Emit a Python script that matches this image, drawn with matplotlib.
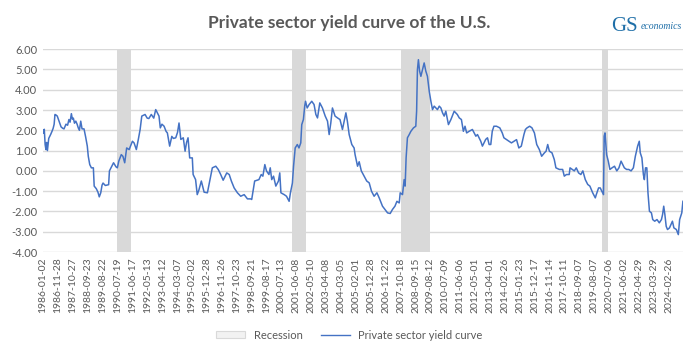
import pandas as pd
import matplotlib
matplotlib.use("Agg")
import matplotlib.pyplot as plt
from matplotlib.patches import Patch
from matplotlib.lines import Line2D

# time in decimal years, value of the private sector yield curve
t = [1986.00, 1986.04, 1986.08, 1986.13, 1986.18, 1986.22, 1986.27, 1986.35, 1986.47, 1986.55,
     1986.62, 1986.68, 1986.73, 1986.80, 1986.87, 1986.98, 1987.10, 1987.20, 1987.28, 1987.40,
     1987.50, 1987.58, 1987.65, 1987.73, 1987.79, 1987.85, 1987.92, 1988.00, 1988.08, 1988.15,
     1988.22, 1988.30, 1988.38, 1988.50, 1988.60, 1988.70, 1988.76, 1988.85, 1988.95, 1989.07,
     1989.12, 1989.25, 1989.35, 1989.43, 1989.52, 1989.60, 1989.66, 1989.80, 1990.00, 1990.05,
     1990.19, 1990.30, 1990.45, 1990.53, 1990.62, 1990.77, 1990.87, 1990.98, 1991.10, 1991.25,
     1991.45, 1991.55, 1991.69, 1991.81, 1991.92, 1992.02, 1992.22, 1992.35, 1992.45, 1992.60,
     1992.75, 1992.87, 1993.07, 1993.15, 1993.25, 1993.38, 1993.50, 1993.58, 1993.72, 1993.85,
     1993.95, 1994.09, 1994.20, 1994.29, 1994.40, 1994.55, 1994.66, 1994.75, 1994.84, 1994.94,
     1995.10, 1995.15, 1995.30, 1995.40, 1995.50, 1995.65, 1995.82, 1996.02, 1996.16, 1996.32,
     1996.53, 1996.68, 1996.83, 1996.98, 1997.20, 1997.35, 1997.48, 1997.65, 1997.85, 1998.05,
     1998.26, 1998.46, 1998.66, 1998.72, 1998.80, 1998.90, 1999.16, 1999.30, 1999.40, 1999.52,
     1999.62, 1999.77, 1999.85, 1999.94, 2000.05, 2000.19, 2000.35, 2000.43, 2000.50, 2000.70,
     2000.84, 2001.00, 2001.08, 2001.20, 2001.27, 2001.37, 2001.50, 2001.60, 2001.71, 2001.77,
     2001.87, 2001.95, 2002.00, 2002.10, 2002.22, 2002.38, 2002.52, 2002.63, 2002.73, 2002.87,
     2003.03, 2003.20, 2003.34, 2003.44, 2003.54, 2003.64, 2003.80, 2003.95, 2004.10, 2004.25,
     2004.46, 2004.55, 2004.66, 2004.82, 2004.96, 2005.02, 2005.10, 2005.17, 2005.27, 2005.40,
     2005.57, 2005.73, 2005.88, 2006.02, 2006.18, 2006.35, 2006.49, 2006.69, 2006.84, 2007.00,
     2007.16, 2007.30, 2007.45, 2007.57, 2007.71, 2007.77, 2007.91, 2008.01, 2008.07, 2008.13,
     2008.21, 2008.32, 2008.42, 2008.58, 2008.72, 2008.77, 2008.82, 2008.88, 2008.95, 2009.03,
     2009.13, 2009.23, 2009.33, 2009.43, 2009.54, 2009.64, 2009.74, 2009.84, 2010.04, 2010.15,
     2010.25, 2010.35, 2010.45, 2010.55, 2010.71, 2010.86, 2011.06, 2011.25, 2011.37, 2011.50,
     2011.62, 2011.72, 2011.82, 2011.97, 2012.17, 2012.38, 2012.48, 2012.58, 2012.68, 2012.78,
     2012.98, 2013.09, 2013.19, 2013.29, 2013.38, 2013.48, 2013.64, 2013.84, 2013.99, 2014.09,
     2014.25, 2014.40, 2014.55, 2014.70, 2014.86, 2015.00, 2015.15, 2015.31, 2015.40, 2015.50,
     2015.66, 2015.80, 2015.95, 2016.09, 2016.25, 2016.39, 2016.56, 2016.66, 2016.76, 2016.86,
     2017.02, 2017.16, 2017.26, 2017.47, 2017.67, 2017.77, 2017.90, 2018.07, 2018.12, 2018.38,
     2018.50, 2018.64, 2018.78, 2018.90, 2019.05, 2019.20, 2019.33, 2019.50, 2019.66, 2019.72,
     2019.86, 2019.96, 2020.06, 2020.16, 2020.20, 2020.25, 2020.35, 2020.45, 2020.55, 2020.68,
     2020.83, 2020.97, 2021.10, 2021.23, 2021.33, 2021.43, 2021.57, 2021.70, 2021.84, 2021.98,
     2022.10, 2022.24, 2022.34, 2022.40, 2022.50, 2022.59, 2022.65, 2022.72, 2022.80, 2022.87,
     2022.96, 2023.08, 2023.16, 2023.28, 2023.42, 2023.56, 2023.69, 2023.76, 2023.83, 2023.90,
     2023.98, 2024.06, 2024.18, 2024.36, 2024.45, 2024.60, 2024.72, 2024.80, 2024.93, 2025.00]

curve = [2.00, 1.85, 2.05, 1.30, 1.05, 1.40, 1.00, 1.60, 1.80, 1.95,
         2.10, 2.30, 2.78, 2.75, 2.70, 2.45, 2.17, 2.10, 2.07, 2.30,
         2.25, 2.53, 2.40, 2.82, 2.55, 2.60, 2.35, 2.45, 2.30, 2.12,
         2.00, 2.45, 2.07, 2.07, 1.67, 1.22, 0.72, 0.31, 0.15, 0.15,
         -0.75, -0.88, -1.05, -1.28, -1.08, -0.70, -0.60, -0.72, -0.68, 0.00,
         0.23, 0.40, 0.20, 0.15, 0.48, 0.80, 0.72, 0.40, 1.13, 1.05,
         1.46, 1.38, 1.05, 1.55, 2.04, 2.70, 2.78, 2.60, 2.58, 2.78,
         2.60, 3.02, 2.70, 2.12, 2.30, 2.20, 1.95, 1.87, 1.22, 1.70,
         1.60, 1.63, 1.90, 2.36, 1.55, 1.63, 0.97, 1.40, 1.63, 0.64,
         0.64, -0.18, -0.43, -1.17, -0.95, -0.50, -1.05, -1.08, -0.50, 0.15,
         0.23, 0.07, -0.18, -0.46, -0.10, -0.18, -0.50, -0.84, -1.08, -1.25,
         -1.17, -1.38, -1.38, -1.41, -1.00, -0.50, -0.43, -0.18, -0.26, 0.31,
         0.00, -0.18, 0.15, -0.43, -0.26, -0.75, -0.50, -0.10, -1.08, -1.17,
         -1.25, -1.50, -1.08, -0.60, 0.23, 1.13, 1.30, 1.13, 1.38, 2.28,
         2.53, 3.19, 3.43, 3.10, 3.27, 3.43, 3.27, 2.78, 2.61, 3.35,
         3.10, 2.70, 2.45, 1.79, 2.36, 3.10, 2.70, 2.61, 2.53, 2.04,
         2.86, 2.45, 1.79, 1.30, 1.13, 0.80, 0.50, 0.23, 0.45, 0.00,
         -0.26, -0.50, -0.59, -1.00, -1.25, -1.08, -1.33, -1.74, -1.90, -2.07,
         -2.10, -1.90, -1.74, -1.50, -1.58, -1.08, -1.17, -0.43, -0.75, 0.64,
         1.63, 1.79, 1.95, 2.12, 2.20, 2.94, 4.99, 5.48, 4.92, 4.66,
         4.99, 5.32, 4.92, 4.66, 3.92, 3.43, 3.02, 3.19, 3.02, 3.19,
         3.10, 2.86, 2.70, 2.94, 2.28, 2.53, 2.94, 2.78, 2.61, 2.53,
         1.95, 2.20, 1.87, 1.95, 2.04, 1.71, 1.79, 1.63, 1.46, 1.22,
         1.55, 1.63, 1.30, 1.30, 1.95, 2.20, 2.20, 2.12, 1.87, 1.63,
         1.54, 1.46, 1.38, 1.46, 1.54, 1.13, 1.22, 1.79, 2.04, 2.12,
         2.20, 2.12, 1.87, 1.30, 1.05, 0.72, 0.89, 0.97, 1.30, 0.97,
         0.89, 0.56, 0.15, 0.07, 0.07, -0.26, -0.18, -0.18, 0.15, 0.00,
         0.15, -0.10, -0.18, 0.00, -0.43, -0.67, -0.75, -1.08, -1.33, -1.17,
         -0.84, -0.84, -1.00, -1.17, 1.71, 1.87, 0.80, 0.48, 0.07, 0.15,
         0.23, 0.00, 0.15, 0.48, 0.31, 0.15, 0.07, 0.07, 0.00, 0.15,
         0.72, 1.22, 1.46, 0.89, 0.64, -0.18, -0.43, 0.15, 0.15, -1.08,
         -1.99, -2.07, -2.40, -2.48, -2.40, -2.56, -2.40, -2.15, -1.74, -2.15,
         -2.73, -2.89, -2.81, -2.48, -2.81, -2.89, -3.14, -2.40, -2.07, -1.50]

# recession periods (decimal years)
rec_start = [1990.51, 2001.18, 2007.83, 2020.09]
rec_end = [1991.35, 2002.02, 2009.58, 2020.43]

tick_dates = ["1986-01-02", "1986-11-28", "1987-10-27", "1988-09-23", "1989-08-22", "1990-07-19",
              "1991-06-17", "1992-05-13", "1993-04-12", "1994-03-07", "1995-02-02", "1995-12-28",
              "1996-11-26", "1997-10-23", "1998-09-21", "1999-08-17", "2000-07-13", "2001-06-08",
              "2002-05-10", "2003-04-08", "2004-03-05", "2005-02-01", "2005-12-28", "2006-11-22",
              "2007-10-18", "2008-09-15", "2009-08-12", "2010-07-09", "2011-06-06", "2012-05-01",
              "2013-04-01", "2014-02-26", "2015-01-23", "2015-12-17", "2016-11-14", "2017-10-11",
              "2018-09-07", "2019-08-07", "2020-07-06", "2021-06-02", "2022-04-29", "2023-03-29",
              "2024-02-26"]

gray = "#595959"
blue = "#4472C4"
plt.rcParams["font.family"] = ["Lato", "DejaVu Sans"]

fig = plt.figure(figsize=(6.99, 3.56), dpi=100)
ax = fig.add_axes([0.0615, 0.292, 0.9155, 0.570])

for s, e in zip(rec_start, rec_end):
    ax.axvspan(s, e, color="#D9D9D9", lw=0, zorder=1)
ax.plot(t, curve, color=blue, lw=1.1, zorder=3)

ax.set_ylim(-4, 6)
ax.set_xlim(t[0], t[-1])
ax.set_yticks(range(-4, 7))
ax.set_yticklabels([f"{v:.2f}" for v in range(-4, 7)], fontsize=8, color=gray)

ts = pd.to_datetime(tick_dates)
tick_pos = [d.year + (d.dayofyear - 1) / 365.25 for d in ts]
ax.set_xticks(tick_pos)
ax.set_xticklabels(tick_dates, rotation=90, fontsize=7.5, color=gray)

ax.grid(axis="y", color="#D9D9D9", lw=1, zorder=0)
ax.tick_params(length=0, pad=4)
for sp in ax.spines.values():
    sp.set_visible(False)

fig.text(0.5, 0.935, "Private sector yield curve of the U.S.", ha="center", va="center",
         fontsize=12.5, fontweight="bold", color=gray)

# logo
fig.text(0.875, 0.925, "GS", ha="left", va="center", fontsize=15, color="#1F6FA8",
         family="Liberation Serif")
fig.text(0.917, 0.925, "economics", ha="left", va="center", fontsize=7, color="#1F6FA8",
         family="Liberation Serif", style="italic")

handles = [Patch(facecolor="#F2F2F2", edgecolor="#D9D9D9", lw=0.8),
           Line2D([0], [0], color=blue, lw=1.0)]
fig.legend(handles, ["Recession", "Private sector yield curve"], loc="center",
           bbox_to_anchor=(0.5, 0.058), ncol=2, frameon=False, fontsize=8,
           handlelength=2.6, handleheight=0.6, columnspacing=1.6,
           labelcolor=gray)

fig.savefig("out.png", dpi=100)
